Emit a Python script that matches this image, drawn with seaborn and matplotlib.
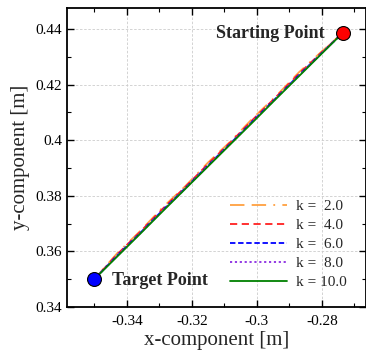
import matplotlib
matplotlib.use("Agg")
import matplotlib.pyplot as plt
import seaborn as sns
import pandas as pd

# trajectory points
x_pts = [-0.350, -0.343, -0.336, -0.329, -0.322, -0.315, -0.308, -0.301,
         -0.294, -0.287, -0.280, -0.2736]
y_k2 = [0.3500, 0.3593, 0.3672, 0.3758, 0.3835, 0.3920, 0.3997, 0.4082,
        0.4160, 0.4245, 0.4320, 0.4386]
y_k4 = [0.3500, 0.3589, 0.3669, 0.3753, 0.3832, 0.3915, 0.3994, 0.4077,
        0.4157, 0.4240, 0.4317, 0.4386]
y_k6 = [0.3500, 0.3585, 0.3665, 0.3748, 0.3828, 0.3910, 0.3990, 0.4072,
        0.4153, 0.4235, 0.4314, 0.4386]
y_k8 = [0.3500, 0.3584, 0.3664, 0.3747, 0.3827, 0.3909, 0.3989, 0.4071,
        0.4152, 0.4234, 0.4314, 0.4386]
y_k10 = [0.3500, 0.3581, 0.3662, 0.3744, 0.3825, 0.3906, 0.3987, 0.4068,
         0.4150, 0.4231, 0.4312, 0.4386]

start_pt = (-0.2736, 0.4386)
target_pt = (-0.350, 0.350)

k_labels = ["k =  2.0", "k =  4.0", "k =  6.0", "k =  8.0", "k = 10.0"]
x_ticks = [-0.34, -0.32, -0.30, -0.28]
x_ticklabels = ["-0.34", "-0.32", "-0.3", "-0.28"]
y_ticks = [0.34, 0.36, 0.38, 0.40, 0.42, 0.44]
y_ticklabels = ["0.34", "0.36", "0.38", "0.4", "0.42", "0.44"]

sns.set_style("ticks")
plt.rcParams["font.family"] = ["Liberation Serif", "DejaVu Serif"]

fig = plt.figure(figsize=(3.66, 3.51), dpi=100)
ax = fig.add_axes([67 / 366, 44 / 351, 299 / 366, 299 / 351])

styles = [
    dict(color="#ffa040", dashes=(8, 4, 8, 4, 1, 4)),
    dict(color="#ff2020", dashes=(4, 2.5)),
    dict(color="#0000ff", dashes=(3, 1.5)),
    dict(color="#8a2be2", dashes=(1.2, 1.5)),
    dict(color="#008000", dashes=None),
]
series = [y_k2, y_k4, y_k6, y_k8, y_k10]

for ys, lab, st in zip(series, k_labels, styles):
    df = pd.DataFrame({"x": x_pts, "y": ys})
    line = sns.lineplot(data=df, x="x", y="y", sort=False, estimator=None,
                        ax=ax, color=st["color"], lw=1.3, label=lab)
    if st["dashes"] is not None:
        line.get_lines()[-1].set_dashes(st["dashes"])

ax.plot(*start_pt, "o", ms=10, mfc="#ff0000", mec="black", mew=0.8, zorder=5)
ax.plot(*target_pt, "o", ms=10, mfc="#0000ff", mec="black", mew=0.8, zorder=5)
ax.annotate("Starting Point", xy=start_pt, xytext=(-13, 0),
            textcoords="offset points", ha="right", va="center",
            fontsize=13, fontweight="bold")
ax.annotate("Target Point", xy=target_pt, xytext=(13, -1),
            textcoords="offset points", ha="left", va="center",
            fontsize=13, fontweight="bold")

ax.set_xlim(-0.3584, -0.2664)
ax.set_ylim(0.34, 0.4476)
ax.set_xticks(x_ticks)
ax.set_xticklabels(x_ticklabels)
ax.set_yticks(y_ticks)
ax.set_yticklabels(y_ticklabels)
ax.set_xticks([-0.35, -0.33, -0.31, -0.29, -0.27], minor=True)
ax.set_yticks([0.35, 0.37, 0.39, 0.41, 0.43], minor=True)
ax.tick_params(which="both", direction="in", top=True, right=True,
               labelsize=11, colors="black")
ax.tick_params(which="major", length=5, width=1)
ax.tick_params(which="minor", length=3, width=0.8)
ax.tick_params(axis="x", pad=6)
for sp in ax.spines.values():
    sp.set_linewidth(1.3)
    sp.set_color("black")

ax.grid(True, which="major", ls=(0, (3, 2)), color="#cccccc", lw=0.6)
ax.set_xlabel("x-component [m]", fontsize=15, labelpad=2)
ax.set_ylabel("y-component [m]", fontsize=15, labelpad=4)

leg = ax.legend(loc="lower right", bbox_to_anchor=(0.972, 0.023), frameon=False,
                fontsize=11, handlelength=3.7, labelspacing=0.35,
                handletextpad=0.6, borderaxespad=0.3)

fig.savefig("out.png", dpi=100)
